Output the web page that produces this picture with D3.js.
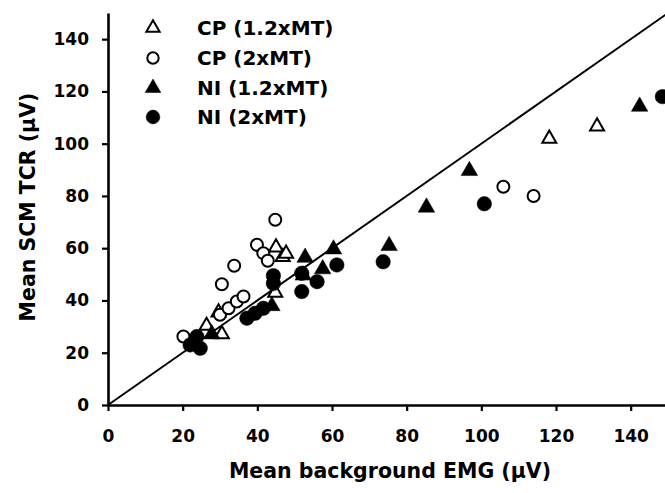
<!DOCTYPE html>
<html>
<head>
<meta charset="utf-8">
<script src="https://cdn.jsdelivr.net/npm/d3@7"></script>
<style>
  body { margin: 0; background: #fff; }
  svg text { font-family: "DejaVu Sans", sans-serif; font-weight: bold; fill: #000; }
</style>
</head>
<body>
<svg id="chart" width="665" height="493"></svg>
<script>
// values, [background EMG, SCM TCR] in µV
const cp12 = [[26.4, 30.7], [30.5, 27.5], [29.6, 35.8], [44.8, 43.4], [45, 60.7],
  [46.8, 57], [47.7, 58.3], [118.2, 102.3], [131, 107]];
const cp2 = [[20.2, 26.2], [30, 34.5], [32.3, 37], [34.5, 39.6], [36.3, 41.5], [30.5, 46.2],
  [33.8, 53.3], [39.9, 61.3], [41.6, 58.1], [42.8, 55.2], [44.8, 70.9], [105.9, 83.5], [114, 80]];
const ni12 = [[27.8, 27.5], [43.9, 38.3], [52.8, 56.8], [60.4, 60], [57.5, 52.4], [52.3, 50],
  [75.3, 61.3], [85.3, 76], [96.8, 90], [142.4, 114.6]];
const ni2 = [[22, 23], [23.8, 26.2], [24.7, 21.7], [37.2, 33.2], [39.4, 35.1], [41.6, 37],
  [44.3, 49.5], [44.3, 46.5], [51.9, 50.4], [56, 47.2], [51.9, 43.4], [61.3, 53.6],
  [73.7, 54.8], [100.8, 77], [148.5, 118]];
const tickVals = [0, 20, 40, 60, 80, 100, 120, 140];
const legendLabels = ["CP (1.2xMT)", "CP (2xMT)", "NI (1.2xMT)", "NI (2xMT)"];

const svg = d3.select("#chart");
const margin = { l: 108, t: 13 };

const x = d3.scaleLinear().domain([0, 150]).range([margin.l, margin.l + 560]);
const y = d3.scaleLinear().domain([0, 150]).range([405, margin.t]);

// line of identity
svg.append("line")
  .attr("x1", x(0)).attr("y1", y(0))
  .attr("x2", x(150)).attr("y2", y(150))
  .attr("stroke", "#000").attr("stroke-width", 2);

const axisX = d3.axisBottom(x).tickValues(tickVals).tickSize(6).tickPadding(19).tickSizeOuter(0);
const axisY = d3.axisLeft(y).tickValues(tickVals).tickSize(6).tickPadding(13).tickSizeOuter(0);

svg.append("g").attr("transform", `translate(0,${y(0)})`).call(axisX);
svg.append("g").attr("transform", `translate(${x(0)},0)`).call(axisY);

svg.selectAll(".domain").attr("stroke-width", 2.6);
svg.selectAll(".tick line").attr("stroke-width", 2.2);
svg.selectAll(".tick text").style("font-size", "17px");

// markers
const styles = [
  { data: cp12, type: d3.symbolTriangle, size: 85, fill: "#fff" },
  { data: cp2, type: d3.symbolCircle, size: 113, fill: "#fff" },
  { data: ni12, type: d3.symbolTriangle, size: 118, fill: "#000" },
  { data: ni2, type: d3.symbolCircle, size: 165, fill: "#000" }
];

styles.forEach(s => {
  svg.append("g")
    .selectAll("path")
    .data(s.data)
    .join("path")
    .attr("transform", d => `translate(${x(d[0])},${y(d[1]) + (s.type === d3.symbolTriangle ? 1 : 0)})`)
    .attr("d", d3.symbol().type(s.type).size(s.size))
    .attr("fill", s.fill)
    .attr("stroke", "#000")
    .attr("stroke-width", s.fill === "#fff" ? 2 : 0.5);
});

// legend
const legend = svg.append("g");
const legendY = [28, 58, 88, 117];
legendLabels.forEach((lab, i) => {
  const s = styles[i];
  legend.append("path")
    .attr("transform", `translate(153,${legendY[i]})`)
    .attr("d", d3.symbol().type(s.type).size(s.size * 0.9))
    .attr("fill", s.fill)
    .attr("stroke", "#000")
    .attr("stroke-width", s.fill === "#fff" ? 2 : 0.5);
  legend.append("text")
    .attr("x", 197).attr("y", legendY[i])
    .attr("dy", "0.36em")
    .style("font-size", "20px")
    .text(lab);
});

// axis titles
svg.append("text")
  .attr("x", 390).attr("y", 471).attr("dy", "0.36em")
  .attr("text-anchor", "middle")
  .style("font-size", "20.5px")
  .text("Mean background EMG (µV)");

svg.append("text")
  .attr("transform", "translate(28,207) rotate(-90)")
  .attr("dy", "0.36em")
  .attr("text-anchor", "middle")
  .style("font-size", "20.5px")
  .text("Mean SCM TCR (µV)");
</script>
</body>
</html>
